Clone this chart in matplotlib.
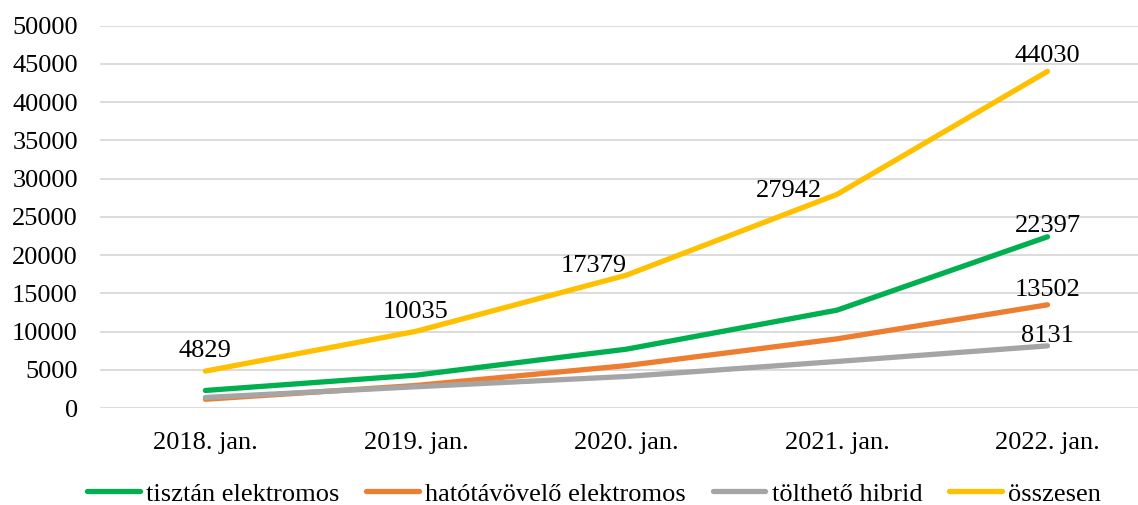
import matplotlib
matplotlib.use("Agg")
import matplotlib.pyplot as plt

plt.rcParams["font.family"] = ["Liberation Serif", "DejaVu Serif"]

# Data
categories = ["2018. jan.", "2019. jan.", "2020. jan.", "2021. jan.", "2022. jan."]
tisztan = [2300, 4300, 7700, 12800, 22397]
hatotav = [1150, 2950, 5550, 9050, 13502]
tolheto = [1380, 2785, 4130, 6090, 8131]
osszesen = [4829, 10035, 17379, 27942, 44030]

series = [
    ("tisztán elektromos", tisztan, "#00B050"),
    ("hatótávövelő elektromos", hatotav, "#ED7D31"),
    ("tölthető hibrid", tolheto, "#A5A5A5"),
    ("összesen", osszesen, "#FFC000"),
]

fs = 19

fig = plt.figure(figsize=(11.38, 5.05), dpi=100)
ax = fig.add_axes([0.088, 0.192, 0.912, 0.757])

x = list(range(len(categories)))
for name, vals, color in series:
    ax.plot(x, vals, color=color, lw=3.8, label=name, solid_capstyle="round")

# label placement (pixels) as in the original chart
total_pos = [(0, 14, "center"), (0, 13, "center"), (0, 3, "right"),
             (-15, -3, "right"), (0, 9, "center")]
for i, v in enumerate(osszesen):
    dx, dy, ha = total_pos[i]
    ax.annotate(str(v), (i, v), xytext=(dx, dy), textcoords="offset pixels",
                ha=ha, va="baseline", fontsize=fs)
for vals, dy in ((tisztan, 5), (hatotav, 9), (tolheto, 4)):
    ax.annotate(str(vals[-1]), (x[-1], vals[-1]), xytext=(0, dy),
                textcoords="offset pixels", ha="center", va="baseline", fontsize=fs)

ax.set_ylim(0, 50000)
ax.set_yticks(range(0, 50001, 5000))
ax.set_xlim(-0.5, 4.43)
ax.set_xticks(x)
ax.set_xticklabels(categories)
ax.tick_params(axis="both", length=0, labelsize=fs)
ax.tick_params(axis="y", pad=16)
ax.tick_params(axis="x", pad=17)
ax.grid(axis="y", color="#D9D9D9", lw=1.3)
ax.set_axisbelow(True)
for s in ax.spines.values():
    s.set_visible(False)

fig.legend(loc="center", bbox_to_anchor=(0.522, 0.022), ncol=4, frameon=False,
           fontsize=fs, handlelength=2.0, handletextpad=0.25, columnspacing=1.0)

fig.savefig("out.png", dpi=100)
